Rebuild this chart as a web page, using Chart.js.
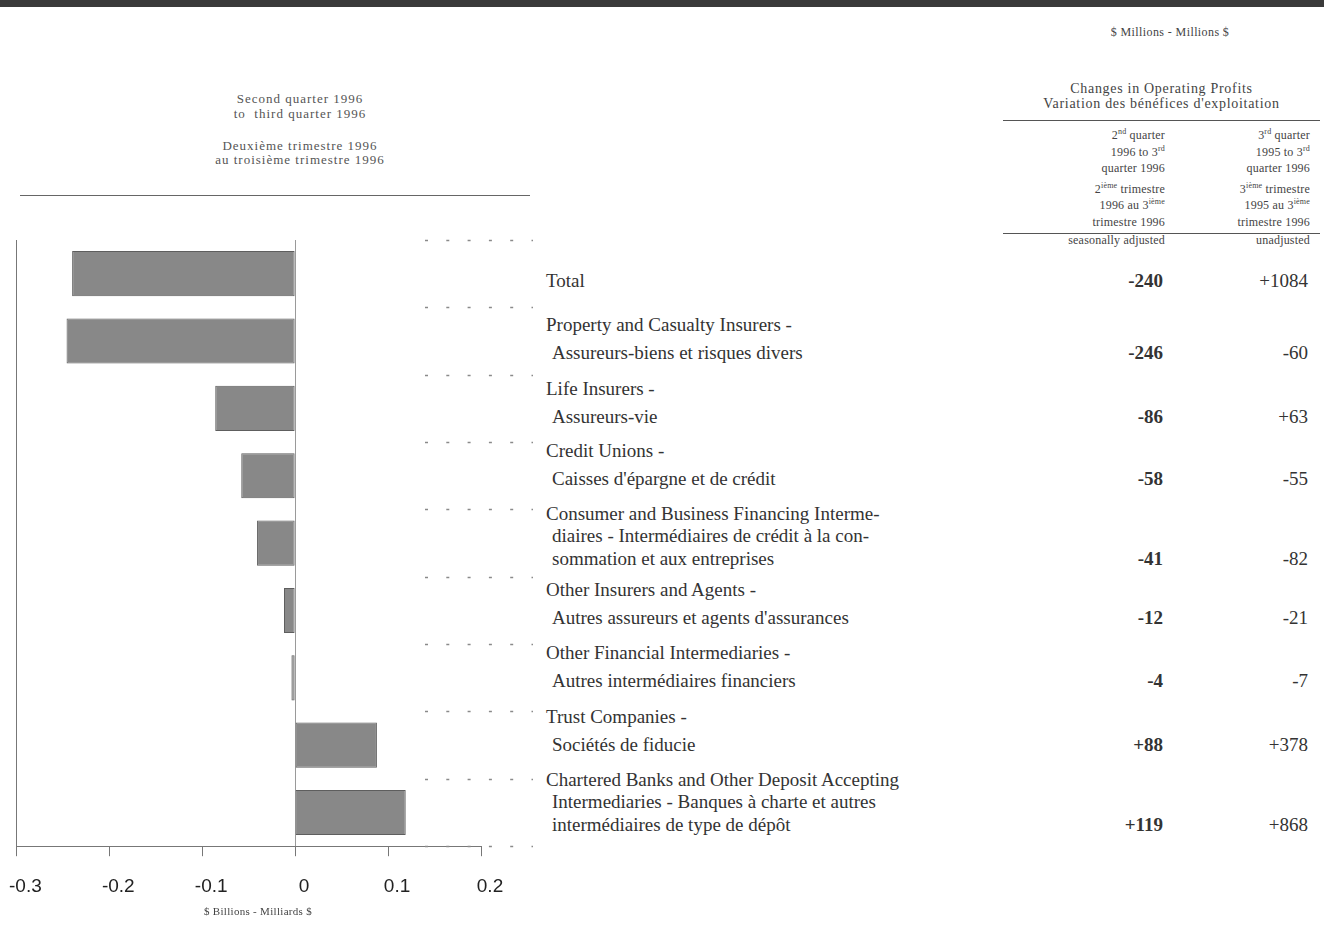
<!DOCTYPE html>
<html lang="fr">
<head>
    <meta charset="UTF-8">
    <title>Changes in Operating Profits - Variation des bénéfices d'exploitation</title>
    <style>
        /* page */
        body {
            margin: 0;
            width: 1324px;
            height: 946px;
            position: relative;
            overflow: hidden;
            background: #ffffff;
            font-family: "Liberation Serif", "Times New Roman", serif;
            color: #333333;
        }
        .abs { position: absolute; }

        .topbar {
            left: 0; top: 0;
            width: 1324px; height: 7px;
            background: #3a3a3a;
        }
        .rule { height: 0; border-top: 1px solid #666666; }

        /* left header */
        .lefthead {
            left: 150px; top: 92px; width: 300px;
            text-align: center;
            font-size: 13px;
            letter-spacing: 1px;
            line-height: 14.5px;
            color: #555555;
        }
        .lefthead .fr { margin-top: 17.5px; }

        .xtitle {
            left: 158px; top: 905px; width: 200px;
            text-align: center;
            font-size: 11px;
            letter-spacing: 0.3px;
            color: #444444;
        }

        /* right header */
        .units {
            left: 1070px; top: 25px; width: 200px;
            text-align: center;
            font-size: 12px;
            letter-spacing: 0.4px;
            color: #444444;
        }
        .changes {
            left: 1003px; top: 81px; width: 317px;
            text-align: center;
            font-size: 14px;
            letter-spacing: 0.7px;
            line-height: 15px;
            color: #444444;
        }
        .colhead {
            top: 127px;
            text-align: right;
            font-size: 12px;
            letter-spacing: 0.2px;
            color: #444444;
            white-space: nowrap;
        }
        .colhead div { height: 16.5px; line-height: 16.5px; }
        .colhead .fr { margin-top: 4px; }
        .colhead .adj { margin-top: 2px; }
        .colhead sup {
            font-size: 8px;
            line-height: 0;
            vertical-align: 5px;
        }

        /* table rows */
        .label {
            left: 546px;
            font-size: 19px;
            padding-left: 6px;
            text-indent: -6px;
            white-space: nowrap;
        }
        .val {
            font-size: 19px;
            line-height: 28px;
            text-align: right;
            white-space: nowrap;
        }
        .val.adjusted { right: 161px; font-weight: bold; }
        .val.unadjusted { right: 16px; }

        #chartBox { left: 0; top: 230px; }
    </style>
    <script src="https://cdn.jsdelivr.net/npm/chart.js"></script>
</head>
<body>
    <div class="abs topbar"></div>

    <!-- en-tête gauche -->
    <div class="abs lefthead">
        <div>Second quarter 1996</div>
        <div>to&nbsp; third quarter 1996</div>
        <div class="fr">Deuxième trimestre 1996</div>
        <div>au troisième trimestre 1996</div>
    </div>
    <div class="abs rule" style="left:20px; top:195px; width:510px;"></div>

    <!-- en-tête droite -->
    <div class="abs units">$ Millions - Millions $</div>
    <div class="abs changes">
        <div>Changes in Operating Profits</div>
        <div>Variation des bénéfices d'exploitation</div>
    </div>
    <div class="abs rule" style="left:1003px; top:120px; width:317px; border-color:#555;"></div>

    <div class="abs colhead" style="right:159px;">
        <div>2<sup>nd</sup> quarter</div>
        <div>1996 to 3<sup>rd</sup></div>
        <div>quarter 1996</div>
        <div class="fr">2<sup>ième</sup> trimestre</div>
        <div>1996 au 3<sup>ième</sup></div>
        <div>trimestre 1996</div>
        <div class="adj">seasonally adjusted</div>
    </div>
    <div class="abs colhead" style="right:14px;">
        <div>3<sup>rd</sup> quarter</div>
        <div>1995 to 3<sup>rd</sup></div>
        <div>quarter 1996</div>
        <div class="fr">3<sup>ième</sup> trimestre</div>
        <div>1995 au 3<sup>ième</sup></div>
        <div>trimestre 1996</div>
        <div class="adj">unadjusted</div>
    </div>
    <div class="abs rule" style="left:1003px; top:233px; width:317px; border-color:#555;"></div>

    <div id="rows"></div>

    <div class="abs" id="chartBox">
        <canvas id="profitChart" width="540" height="692"></canvas>
    </div>
    <div class="abs xtitle">$ Billions - Milliards $</div>

    <script>
        // Données (millions de $)
        const categories = [
            'Total',
            'Property and Casualty Insurers',
            'Life Insurers',
            'Credit Unions',
            'Consumer and Business Financing Intermediaries',
            'Other Insurers and Agents',
            'Other Financial Intermediaries',
            'Trust Companies',
            'Chartered Banks and Other Deposit Accepting Intermediaries'
        ];
        const labelLines = [
            ['Total'],
            ['Property and Casualty Insurers -', 'Assureurs-biens et risques divers'],
            ['Life Insurers -', 'Assureurs-vie'],
            ['Credit Unions -', "Caisses d'épargne et de crédit"],
            ['Consumer and Business Financing Interme-', 'diaires - Intermédiaires de crédit à la con-', 'sommation et aux entreprises'],
            ['Other Insurers and Agents -', "Autres assureurs et agents d'assurances"],
            ['Other Financial Intermediaries -', 'Autres intermédiaires financiers'],
            ['Trust Companies -', 'Sociétés de fiducie'],
            ['Chartered Banks and Other Deposit Accepting', 'Intermediaries - Banques à charte et autres', 'intermédiaires de type de dépôt']
        ];
        // 2e trim. 1996 au 3e trim. 1996, désaisonnalisé
        const adjusted = [-240, -246, -86, -58, -41, -12, -4, 88, 119];
        // 3e trim. 1995 au 3e trim. 1996, non désaisonnalisé
        const unadjusted = [1084, -60, 63, -55, -82, -21, -7, 378, 868];
        const tickValues = [-0.3, -0.2, -0.1, 0, 0.1, 0.2];   // $ milliards

        // position verticale de la première ligne de chaque rangée (texte seulement)
        const rowFirstY = [281, 325, 389, 451, 514, 590, 653, 717, 780];

        function signed(v) {
            return v > 0 ? '+' + v : String(v);
        }

        // construit le tableau de droite
        const rows = document.getElementById('rows');
        labelLines.forEach((lines, i) => {
            const gap = lines.length > 2 ? 22.5 : 28;
            const lab = document.createElement('div');
            lab.className = 'abs label';
            lab.style.top = (rowFirstY[i] - gap / 2) + 'px';
            lab.style.lineHeight = gap + 'px';
            lab.innerHTML = lines.join('<br>');
            rows.appendChild(lab);

            const lastY = rowFirstY[i] + gap * (lines.length - 1);
            const a = document.createElement('div');
            a.className = 'abs val adjusted';
            a.style.top = (lastY - 14) + 'px';
            a.textContent = signed(adjusted[i]);
            rows.appendChild(a);

            const u = document.createElement('div');
            u.className = 'abs val unadjusted';
            u.style.top = (lastY - 14) + 'px';
            u.textContent = signed(unadjusted[i]);
            rows.appendChild(u);
        });

        // pointillés entre les rangées
        const leaderPlugin = {
            id: 'leaders',
            afterDraw(chart) {
                const { ctx, chartArea, scales } = chart;
                ctx.save();
                ctx.strokeStyle = '#8a8a8a';
                ctx.lineWidth = 1.5;
                ctx.setLineDash([3, 18.3]);
                for (let i = 0; i <= categories.length; i++) {
                    const py = Math.round(scales.y.getPixelForValue(i - 0.5)) + 0.5;
                    ctx.beginPath();
                    ctx.moveTo(chartArea.right - 56, py);
                    ctx.lineTo(chartArea.right + 52, py);
                    ctx.stroke();
                }
                ctx.restore();
            }
        };

        // ligne verticale : axe gauche (-0.3) et zéro
        function gridColor(c) {
            if (!c.tick) return 'rgba(0,0,0,0)';
            if (Math.abs(c.tick.value - tickValues[0]) < 1e-9) return '#777777';
            if (Math.abs(c.tick.value) < 1e-9) return '#9a9a9a';
            return 'rgba(0,0,0,0)';
        }

        const TICK_PAD = 19;

        new Chart(document.getElementById('profitChart'), {
            type: 'bar',
            data: {
                labels: categories,
                datasets: [{
                    data: adjusted.map(v => v / 1000),
                    backgroundColor: '#888888',
                    borderColor: '#5e5e5e',
                    borderWidth: 1,
                    borderSkipped: false,
                    barPercentage: 0.67,
                    categoryPercentage: 1
                }]
            },
            options: {
                indexAxis: 'y',
                responsive: false,
                animation: false,
                layout: { padding: { left: 0, right: 59, top: 10, bottom: 5 } },
                plugins: {
                    legend: { display: false },
                    tooltip: { enabled: false }
                },
                scales: {
                    x: {
                        min: -0.3,
                        max: 0.2,
                        afterBuildTicks: s => { s.ticks = tickValues.map(v => ({ value: v })); },
                        // la marge des étiquettes ne doit pas pousser l'axe vers la droite
                        afterFit: s => { s.paddingLeft = Math.max(s.paddingLeft - TICK_PAD, 0); },
                        grid: {
                            color: gridColor,
                            tickColor: '#777777',
                            tickLength: 10,
                            lineWidth: 1
                        },
                        border: { display: true, color: '#777777', width: 1 },
                        ticks: {
                            padding: TICK_PAD,
                            labelOffset: 9,
                            color: '#222222',
                            font: { family: '"Liberation Sans", Arial, sans-serif', size: 19 },
                            callback: v => Math.abs(v) < 1e-9 ? '0' : v.toFixed(1)
                        }
                    },
                    y: {
                        display: false
                    }
                }
            },
            plugins: [leaderPlugin]
        });
    </script>
</body>
</html>
